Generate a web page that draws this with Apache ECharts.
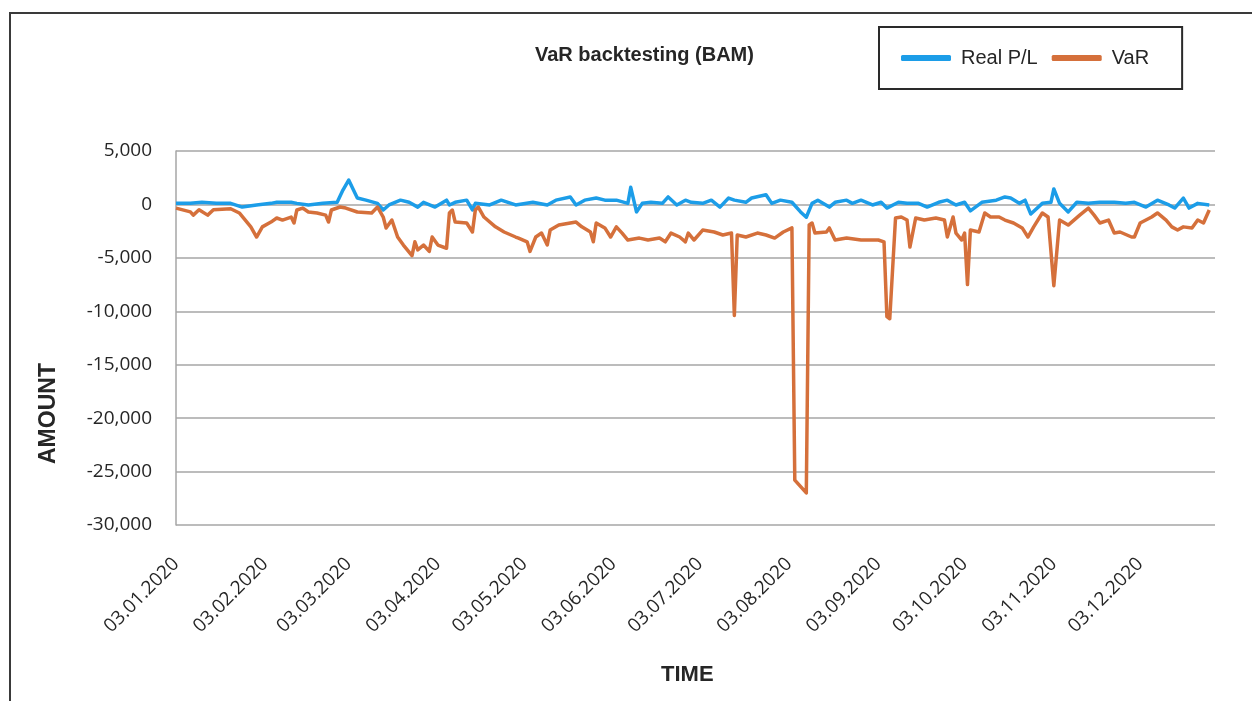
<!DOCTYPE html>
<html>
<head>
<meta charset="utf-8">
<title>VaR backtesting (BAM)</title>
<script src="https://cdn.jsdelivr.net/npm/echarts@6/dist/echarts.min.js"></script>
<style>
  html, body { margin: 0; padding: 0; background: #fff; overflow: hidden; }
  #frame { position: absolute; left: 9px; top: 12px; width: 1300px; height: 800px; border: 2px solid #3a3a3a; }
  #chart { position: absolute; left: 0; top: 0; width: 1252px; height: 701px; }
</style>
</head>
<body>
<div id="frame"></div>
<div id="chart"></div>
<script>
// tick labels on the date axis (3rd of each month)
const labelDates = ['2020-01-03', '2020-02-03', '2020-03-03', '2020-04-03', '2020-05-03', '2020-06-03',
  '2020-07-03', '2020-08-03', '2020-09-03', '2020-10-03', '2020-11-03', '2020-12-03'];

// Real P/L
const plDates = ['2020-01-03', '2020-01-08', '2020-01-12', '2020-01-17', '2020-01-22', '2020-01-26', '2020-01-31',
  '2020-02-05', '2020-02-07', '2020-02-12', '2020-02-14', '2020-02-18', '2020-02-23', '2020-02-28',
  '2020-03-01', '2020-03-03', '2020-03-06', '2020-03-09', '2020-03-13', '2020-03-15', '2020-03-17', '2020-03-21',
  '2020-03-24', '2020-03-27', '2020-03-29', '2020-04-02', '2020-04-06', '2020-04-07', '2020-04-09', '2020-04-13',
  '2020-04-15', '2020-04-16', '2020-04-21', '2020-04-25', '2020-04-30', '2020-05-06', '2020-05-11', '2020-05-14',
  '2020-05-19', '2020-05-21', '2020-05-24', '2020-05-28', '2020-05-31', '2020-06-04', '2020-06-08', '2020-06-09',
  '2020-06-11', '2020-06-13', '2020-06-16', '2020-06-20', '2020-06-22', '2020-06-25', '2020-06-28', '2020-06-30',
  '2020-07-04', '2020-07-07', '2020-07-10', '2020-07-13', '2020-07-15', '2020-07-19', '2020-07-21', '2020-07-26',
  '2020-07-28', '2020-07-31', '2020-08-04', '2020-08-07', '2020-08-09', '2020-08-11', '2020-08-13', '2020-08-17',
  '2020-08-19', '2020-08-23', '2020-08-25', '2020-08-28', '2020-09-01', '2020-09-04', '2020-09-06', '2020-09-10',
  '2020-09-13', '2020-09-17', '2020-09-20', '2020-09-24', '2020-09-27', '2020-09-30', '2020-10-03', '2020-10-05',
  '2020-10-09', '2020-10-14', '2020-10-17', '2020-10-19', '2020-10-22', '2020-10-24', '2020-10-26', '2020-10-30',
  '2020-11-02', '2020-11-03', '2020-11-05', '2020-11-08', '2020-11-11', '2020-11-15', '2020-11-19', '2020-11-24',
  '2020-11-28', '2020-12-01', '2020-12-05', '2020-12-09', '2020-12-13', '2020-12-15', '2020-12-18', '2020-12-20',
  '2020-12-23', '2020-12-27'];
const plValues = [100, 100, 200, 100, 100, -250, -50,
  100, 200, 200, 100, -50, 100, 200,
  1350, 2280, 600, 400, 100, -520, -50, 400,
  200, -250, 200, -250, 400, -50, 200, 400,
  -520, 100, -50, 400, -50, 200, -50, 400,
  700, -50, 400, 600, 400, 400, 100, 1600,
  -700, 100, 200, 100, 700, -50, 400, 200,
  100, 400, -250, 600, 400, 200, 600, 900,
  100, 400, 200, -700, -1200, 100, 400, -250,
  200, 400, 100, 400, -50, 200, -340, 200,
  100, 100, -250, 200, 400, -50, 200, -600,
  200, 400, 700, 600, 100, 400, -900, 100,
  200, 1450, 100, -700, 200, 100, 200, 200,
  100, 200, -250, 400, -50, -340, 600, -340,
  100, -50];

// VaR
const varDates = ['2020-01-03', '2020-01-08', '2020-01-09', '2020-01-11', '2020-01-14', '2020-01-16', '2020-01-22',
  '2020-01-25', '2020-01-29', '2020-01-31', '2020-02-02', '2020-02-05', '2020-02-07', '2020-02-09', '2020-02-12',
  '2020-02-13', '2020-02-14', '2020-02-16', '2020-02-18', '2020-02-21', '2020-02-24', '2020-02-25', '2020-02-26',
  '2020-02-29', '2020-03-02', '2020-03-06', '2020-03-11', '2020-03-13', '2020-03-15', '2020-03-16', '2020-03-18',
  '2020-03-20', '2020-03-22', '2020-03-25', '2020-03-26', '2020-03-27', '2020-03-29', '2020-03-31', '2020-04-01',
  '2020-04-03', '2020-04-06', '2020-04-07', '2020-04-08', '2020-04-09', '2020-04-13', '2020-04-15', '2020-04-16',
  '2020-04-17', '2020-04-19', '2020-04-23', '2020-04-26', '2020-04-30', '2020-05-01', '2020-05-04', '2020-05-05',
  '2020-05-07', '2020-05-09', '2020-05-11', '2020-05-12', '2020-05-15', '2020-05-19', '2020-05-21', '2020-05-23',
  '2020-05-26', '2020-05-27', '2020-05-28', '2020-05-31', '2020-06-02', '2020-06-04', '2020-06-06', '2020-06-08',
  '2020-06-12', '2020-06-15', '2020-06-19', '2020-06-21', '2020-06-23', '2020-06-26', '2020-06-28', '2020-06-29',
  '2020-07-01', '2020-07-04', '2020-07-08', '2020-07-11', '2020-07-14', '2020-07-15', '2020-07-16', '2020-07-19',
  '2020-07-23', '2020-07-26', '2020-07-29', '2020-08-01', '2020-08-04', '2020-08-05', '2020-08-09', '2020-08-10',
  '2020-08-11', '2020-08-12', '2020-08-16', '2020-08-17', '2020-08-19', '2020-08-23', '2020-08-28', '2020-09-01',
  '2020-09-03', '2020-09-05', '2020-09-06', '2020-09-07', '2020-09-09', '2020-09-11', '2020-09-13', '2020-09-14',
  '2020-09-16', '2020-09-19', '2020-09-23', '2020-09-26', '2020-09-27', '2020-09-29', '2020-09-30', '2020-10-02',
  '2020-10-03', '2020-10-04', '2020-10-05', '2020-10-08', '2020-10-10', '2020-10-12', '2020-10-15', '2020-10-17',
  '2020-10-20', '2020-10-23', '2020-10-25', '2020-10-27', '2020-10-30', '2020-11-01', '2020-11-03', '2020-11-05',
  '2020-11-08', '2020-11-12', '2020-11-15', '2020-11-17', '2020-11-19', '2020-11-22', '2020-11-24', '2020-11-26',
  '2020-11-30', '2020-12-01', '2020-12-03', '2020-12-07', '2020-12-09', '2020-12-12', '2020-12-14', '2020-12-16',
  '2020-12-18', '2020-12-21', '2020-12-23', '2020-12-25', '2020-12-27'];
const varValues = [-350, -700, -1000, -500, -1000, -500, -400,
  -800, -2100, -3050, -2100, -1650, -1270, -1460, -1180,
  -1740, -520, -340, -710, -800, -1000, -1650, -520,
  -240, -340, -710, -800, -240, -1180, -2200, -1460,
  -3050, -3800, -4800, -3500, -4250, -3800, -4400, -3050,
  -3800, -4100, -800, -520, -1650, -1740, -2580, -520,
  -240, -1180, -2100, -2580, -3050, -3150, -3500, -4400,
  -3050, -2680, -3800, -2400, -1930, -1740, -1650, -2100,
  -2580, -3500, -1740, -2200, -3050, -2100, -2680, -3330,
  -3150, -3330, -3150, -3500, -2680, -3050, -3500, -2680,
  -3330, -2400, -2580, -2860, -2680, -10400, -2860, -3050,
  -2680, -2860, -3150, -2580, -2200, -25800, -27000, -1930,
  -1740, -2680, -2580, -2200, -3330, -3150, -3330, -3330,
  -3330, -3500, -10500, -10700, -1270, -1180, -1460, -3990,
  -1270, -1460, -1270, -1460, -3050, -1180, -2680, -3330,
  -2680, -7500, -2400, -2580, -800, -1180, -1180, -1460,
  -1740, -2200, -3050, -2100, -800, -1180, -7600, -1460,
  -1930, -1000, -340, -1000, -1740, -1460, -2680, -2580,
  -3050, -3050, -1740, -1180, -800, -1460, -2100, -2400,
  -2100, -2200, -1460, -1740, -520];

const ts = s => +echarts.number.parseDate(s);
const pair = (dates, values) => dates.map((d, i) => [ts(d), values[i]]);
const pad = n => (n < 10 ? '0' : '') + n;

const chart = echarts.init(document.getElementById('chart'));

const option = {
  backgroundColor: 'transparent',
  animation: false,
  title: {
    text: 'VaR backtesting (BAM)',
    left: 530,
    top: 40,
    textStyle: { fontFamily: 'Liberation Sans', fontSize: 20, fontWeight: 'bold', color: '#262626' }
  },
  legend: {
    left: 879,
    top: 27,
    padding: [21, 33, 21, 22],
    borderColor: '#2a2a2a',
    borderWidth: 2,
    itemGap: 14,
    itemWidth: 50,
    itemHeight: 6,
    icon: 'roundRect',
    textStyle: { fontFamily: 'Liberation Sans Narrow, Liberation Sans', fontSize: 20, color: '#262626', padding: [0, 0, 0, 5] },
    data: ['Real P/L', 'VaR']
  },
  grid: { left: 176, right: 37, top: 151, bottom: 176, outerBoundsMode: 'none' },
  xAxis: {
    type: 'value',
    min: ts('2020-01-03'),
    max: ts('2020-12-29'),
    axisLine: { show: false, onZero: false },
    axisTick: { show: false },
    splitLine: { show: false },
    axisLabel: {
      customValues: labelDates.map(ts),
      rotate: 45,
      margin: 36,
      fontFamily: 'Open Sans',
      fontSize: 19,
      color: '#262626',
      formatter: function (v) {
        const d = new Date(v);
        return pad(d.getDate()) + '.' + pad(d.getMonth() + 1) + '.' + d.getFullYear();
      }
    }
  },
  yAxis: {
    type: 'value',
    min: -30000,
    max: 5000,
    interval: 5000,
    axisLine: { show: true, lineStyle: { color: '#a6a6a6', width: 1.5 } },
    axisTick: { show: false },
    splitLine: { lineStyle: { color: '#a6a6a6', width: 1.5 } },
    axisLabel: {
      margin: 24,
      fontFamily: 'Open Sans',
      fontSize: 19,
      color: '#262626',
      formatter: v => v.toLocaleString('en-US')
    }
  },
  graphic: [
    {
      type: 'text', left: 661, top: 664,
      style: { text: 'TIME', fontFamily: 'Liberation Sans', fontSize: 22, fontWeight: 'bold', fill: '#262626' }
    },
    {
      type: 'text', x: 37, y: 464, rotation: Math.PI / 2,
      style: { text: 'AMOUNT', fontFamily: 'Liberation Sans', fontSize: 23, fontWeight: 'bold', fill: '#262626' }
    }
  ],
  series: [
    {
      name: 'Real P/L',
      type: 'line',
      showSymbol: false,
      color: '#1c9de8',
      lineStyle: { width: 3.5, join: 'round' },
      data: pair(plDates, plValues)
    },
    {
      name: 'VaR',
      type: 'line',
      showSymbol: false,
      color: '#d5703b',
      lineStyle: { width: 3.5, join: 'round' },
      data: pair(varDates, varValues)
    }
  ]
};

chart.setOption(option);
window.onresize = function () { chart.resize(); };
</script>
</body>
</html>
